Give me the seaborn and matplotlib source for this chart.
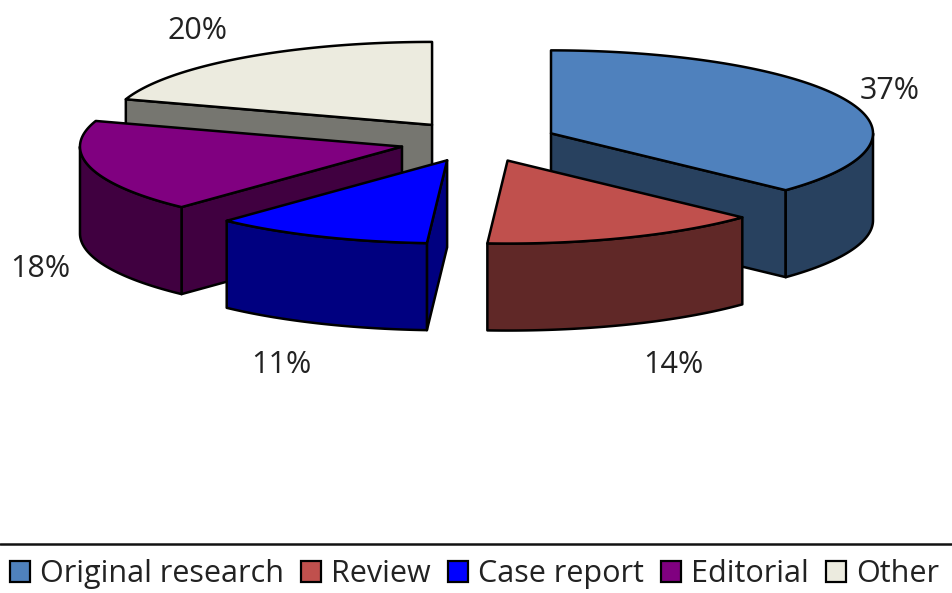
import numpy as np
import seaborn as sns
import matplotlib.pyplot as plt
from matplotlib.patches import Patch, Polygon

categories = ['Original research', 'Review', 'Case report', 'Editorial', 'Other']
shares = [37, 14, 11, 18, 20]
pct_labels = ['37%', '14%', '11%', '18%', '20%']
top_colors = ['#4F81BD', '#C0504D', '#0000FF', '#800080', '#ECEBDF']

# pie geometry, in pixels of the figure
CX, CY = 478.5, 141.5
RX, RY = 322, 83
EXPLODE_X, EXPLODE_Y = 79, 20.5
DEPTH = 87
DARK = 0.5
LABEL_POS = [(890, 91), (673, 365), (281, 365), (40, 269), (198, 31)]
DRAW_ORDER = [4, 3, 0, 2, 1]

sns.set_theme(style='white')
plt.rcParams['font.family'] = ['Open Sans', 'DejaVu Sans']

fig, ax = plt.subplots(figsize=(9.53, 5.93), dpi=100)
fig.subplots_adjust(0, 0, 1, 1)
ax.set_xlim(0, 953)
ax.set_ylim(593, 0)
ax.set_xticks([])
ax.set_yticks([])
sns.despine(ax=ax, left=True, bottom=True)

palette = sns.color_palette(top_colors)
edges = np.cumsum([0] + shares) / sum(shares) * 2 * np.pi


def rim_point(ox, oy, theta):
    # theta runs clockwise from 12 o'clock
    return np.column_stack([ox + RX * np.sin(theta), oy - RY * np.cos(theta)])


def draw_slice(i):
    t0, t1 = edges[i], edges[i + 1]
    mid = (t0 + t1) / 2
    ox = CX + EXPLODE_X * np.sin(mid)
    oy = CY - EXPLODE_Y * np.cos(mid)
    top = palette[i]
    dark = tuple(c * DARK for c in top)
    style = dict(edgecolor='black', linewidth=1.8, joinstyle='round')
    down = np.array([0, DEPTH])
    apex = np.array([ox, oy])

    # straight walls, only those which face the viewer
    for t, visible in ((t0, np.sin(t0) < -1e-6), (t1, np.sin(t1) > 1e-6)):
        if visible:
            p = rim_point(ox, oy, np.array([t]))[0]
            ax.add_patch(Polygon([apex, p, p + down, apex + down], facecolor=dark, **style))

    # curved outer wall, front half only
    a, b = max(t0, np.pi / 2), min(t1, 3 * np.pi / 2)
    if b > a:
        arc = rim_point(ox, oy, np.linspace(a, b, 80))
        ax.add_patch(Polygon(np.vstack([arc, arc[::-1] + down]), facecolor=dark, **style))

    arc = rim_point(ox, oy, np.linspace(t0, t1, 160))
    ax.add_patch(Polygon(np.vstack([apex, arc]), facecolor=top, **style))


for i in DRAW_ORDER:
    draw_slice(i)

for (x, y), txt in zip(LABEL_POS, pct_labels):
    ax.text(x, y, txt, ha='center', va='center', fontsize=22, color='#222222')

ax.axhline(544, color='#111111', linewidth=1.8)

handles = [Patch(facecolor=c, edgecolor='black', linewidth=1.6) for c in palette]
ax.legend(handles, categories, ncol=5, frameon=False, fontsize=22, labelcolor='#222222',
          loc='center', bbox_to_anchor=(474.5 / 953, 1 - 574 / 593), borderpad=0, borderaxespad=0,
          handlelength=0.66, handleheight=0.66, handletextpad=0.33, columnspacing=0.56)

fig.savefig('out.png', dpi=100)
